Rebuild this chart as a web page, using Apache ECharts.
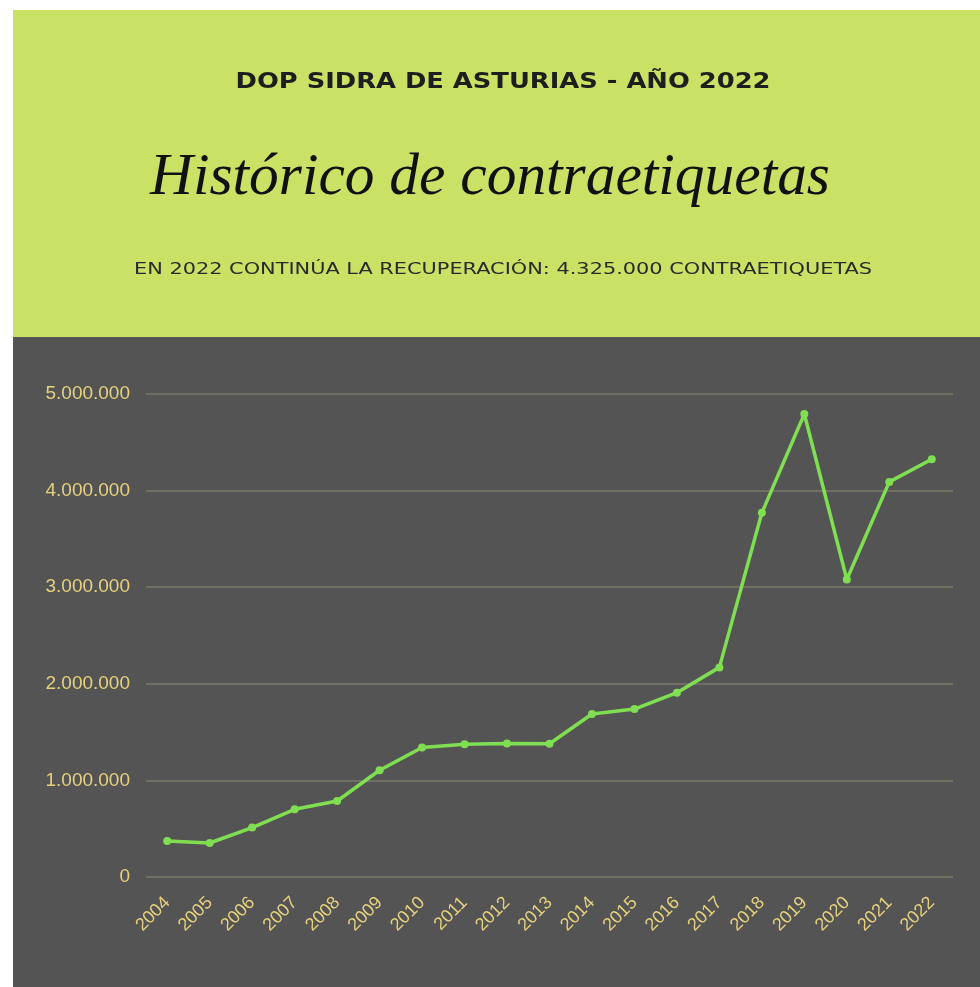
<!DOCTYPE html>
<html>
<head>
<meta charset="utf-8">
<script src="https://cdn.jsdelivr.net/npm/echarts@6/dist/echarts.min.js"></script>
<style>
html,body{margin:0;padding:0;background:#fff;}
#c{width:980px;height:987px;}
</style>
</head>
<body>
<div id="c"></div>
<script>
const years = ['2004','2005','2006','2007','2008','2009','2010','2011','2012','2013','2014','2015','2016','2017','2018','2019','2020','2021','2022'];
const labels = [373000,352000,512000,701000,787000,1105000,1340000,1375000,1383000,1380000,1687000,1739000,1908000,2170000,3770000,4793000,3080000,4090000,4325000];
const yTicks = [0,1000000,2000000,3000000,4000000,5000000];
const headerTop = 'DOP SIDRA DE ASTURIAS - AÑO 2022';
const headerMain = 'Histórico de contraetiquetas';
const headerSub = 'EN 2022 CONTINÚA LA RECUPERACIÓN: 4.325.000 CONTRAETIQUETAS';

function fmt(v){ return String(v).replace(/\B(?=(\d{3})+(?!\d))/g,'.'); }

const mctx = document.createElement('canvas').getContext('2d');
function stretch(text, font, target){
  mctx.font = font;
  return target / mctx.measureText(text).width;
}
const fontTop = 'bold 22px "DejaVu Sans", sans-serif';
const fontMain = 'italic 60px "Liberation Serif", serif';
const fontSub = '16px "DejaVu Sans", sans-serif';
const cx = 503;

const chart = echarts.init(document.getElementById('c'));
chart.setOption({
  backgroundColor:'#ffffff',
  animation:false,
  graphic:[
    {type:'rect',z:-10,shape:{x:13,y:10,width:967,height:327},style:{fill:'#c9e164'}},
    {type:'rect',z:-10,shape:{x:13,y:337,width:967,height:650},style:{fill:'#545454'}},
    {type:'text',x:cx,y:82,scaleX:stretch(headerTop,fontTop,535),
      style:{text:headerTop,fill:'#1e1e1e',font:fontTop,textAlign:'center',textVerticalAlign:'middle'}},
    {type:'text',x:490,y:178,scaleX:stretch(headerMain,fontMain,680),
      style:{text:headerMain,fill:'#111',font:fontMain,textAlign:'center',textVerticalAlign:'middle'}},
    {type:'text',x:cx,y:270,scaleX:stretch(headerSub,fontSub,738),
      style:{text:headerSub,fill:'#2a2a2a',font:fontSub,textAlign:'center',textVerticalAlign:'middle'}}
  ],
  grid:{left:146,right:27,top:394,bottom:110},
  xAxis:{
    type:'category',
    data:years,
    boundaryGap:true,
    axisLine:{show:false},
    axisTick:{show:false},
    axisLabel:{rotate:45,color:'#e6d27e',fontSize:18,fontFamily:'"Liberation Sans", Arial, sans-serif',margin:23,interval:0}
  },
  yAxis:{
    type:'value',
    min:0,max:5000000,interval:1000000,
    axisLine:{show:false},
    axisTick:{show:false},
    splitLine:{lineStyle:{color:'#7a796a',width:1.5}},
    axisLabel:{color:'#e6d27e',fontSize:19,fontFamily:'"Liberation Sans", Arial, sans-serif',margin:16,
      formatter:function(v){ return yTicks.indexOf(v)>=0 ? fmt(v) : ''; }}
  },
  series:[{
    type:'line',
    data:labels,
    symbol:'circle',
    symbolSize:8,
    lineStyle:{color:'#80de52',width:3.5},
    itemStyle:{color:'#80de52'}
  }]
});
</script>
</body>
</html>
